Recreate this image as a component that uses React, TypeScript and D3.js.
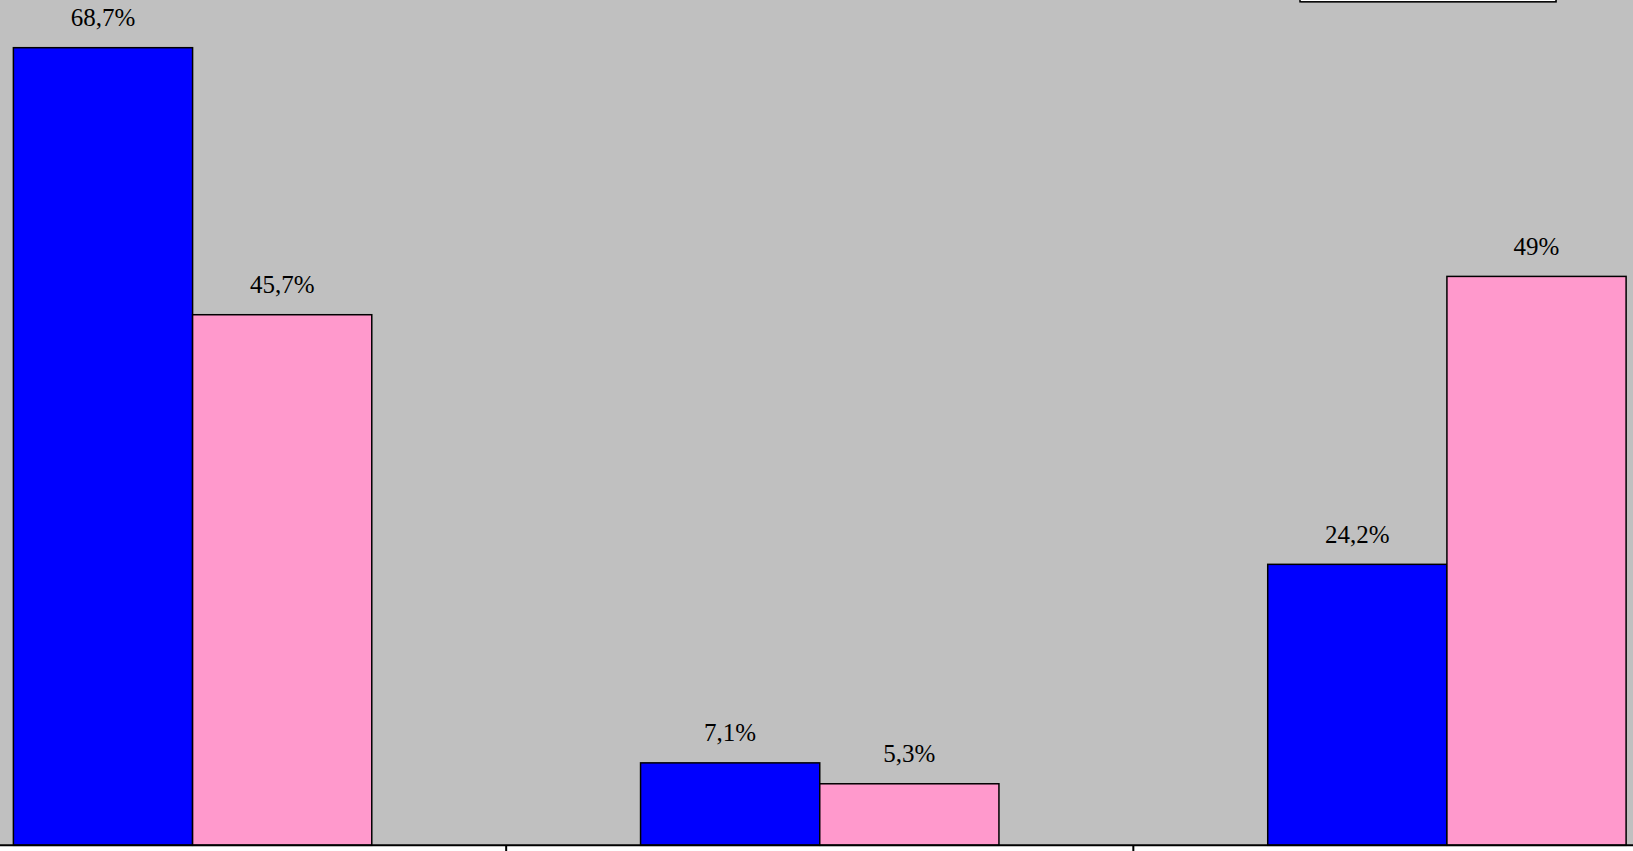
import React from "react";
import * as d3 from "d3";

const categories = ["Cat 1", "Cat 2", "Cat 3"];
const seriesNames = ["Series 1", "Series 2"];
const seriesBlue = [68.7, 7.1, 24.2];
const seriesPink = [45.7, 5.3, 49];
const seriesColors = ["#0000ff", "#ff99cc"];

const W = 1633;
const H = 851;
const baseY = 845.3;
const pxPerUnit = 11.61;

export default function App() {
  const x = d3.scaleBand<string>().domain(categories).range([-121, 1760.5]).paddingInner(0).paddingOuter(0);
  const bw = x.bandwidth();
  const barW = (bw * 2) / 7;
  const yMax = 80;
  const y = d3.scaleLinear().domain([0, yMax]).range([baseY, baseY - yMax * pxPerUnit]);
  const series = [seriesBlue, seriesPink];
  const fmt = (v: number) => String(v).replace(".", ",") + "%";
  const tickXs = categories.slice(1).map((c) => x(c)!);

  return (
    <svg
      width={W}
      height={H}
      style={{ position: "absolute", left: 0, top: 0, display: "block" }}
      xmlns="http://www.w3.org/2000/svg"
    >
      <rect x={0} y={0} width={W} height={H} fill="#ffffff" />
      <rect x={0} y={0} width={W} height={baseY} fill="#c0c0c0" />
      {/* legend box (cut off at top) */}
      <rect x={1301} y={-60} width={256} height={62.5} fill="#808080" />
      <rect x={1300} y={-60} width={256} height={61.8} fill="#ffffff" stroke="#000" strokeWidth={1.5} />
      {categories.map((c, i) => {
        const cx = x(c)! + bw / 2;
        return series.map((s, si) => {
          const bx = cx - barW + si * barW;
          const v = s[i];
          return (
            <g key={c + si}>
              <rect
                x={bx}
                y={y(v)}
                width={barW}
                height={baseY - y(v)}
                fill={seriesColors[si]}
                stroke="#000"
                strokeWidth={1.5}
              />
              <text
                x={bx + barW / 2}
                y={y(v) - 21.5}
                textAnchor="middle"
                fontFamily="'Liberation Serif', serif"
                fontSize={25}
                fill="#000"
              >
                {fmt(v)}
              </text>
            </g>
          );
        });
      })}
      <line x1={0} x2={W} y1={baseY} y2={baseY} stroke="#000" strokeWidth={2} />
      {tickXs.map((tx, i) => (
        <line key={i} x1={tx} x2={tx} y1={baseY} y2={H + 2} stroke="#000" strokeWidth={2} />
      ))}
    </svg>
  );
}
